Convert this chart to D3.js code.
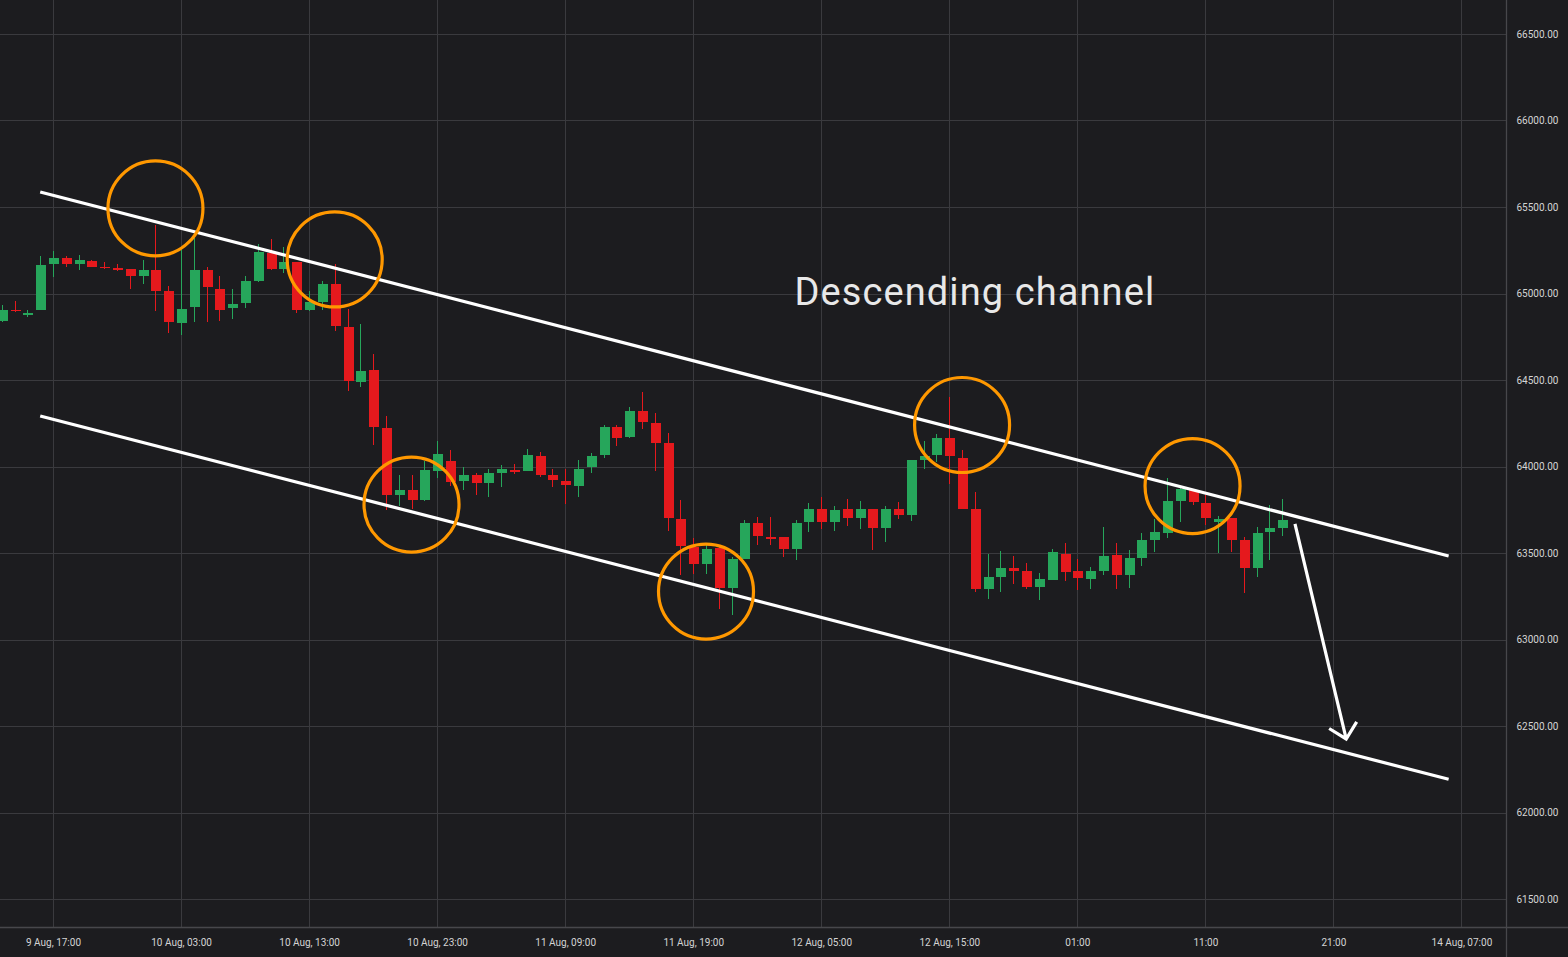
<!DOCTYPE html>
<html>
<head>
<meta charset="utf-8">
<script src="https://cdn.jsdelivr.net/npm/d3@7"></script>
<style>
  html, body { margin: 0; padding: 0; background: #1c1c1f; }
  svg { display: block; }
</style>
</head>
<body>
<svg id="chart"></svg>
<script>
// ── Datos ────────────────────────────────────────────────────────
// velas de 1 hora, desde 9 Aug 13:00 hasta 13 Aug 17:00 (UTC)
const FIRST_CANDLE = "2024-08-09T13:00:00Z";

const opens = [
  64839, 64905, 64878, 64902, 65170, 65208, 65172, 65189, 65155, 65147, 65143,
  65099, 65137, 65012, 64827, 64920, 65137, 65028, 64914, 64943, 65074, 65234, 65143,
  65180, 64902, 64949, 65057, 64807, 64487, 64560, 64225, 63838, 63867, 63809, 63975,
  64029, 63915, 63948, 63906, 63964, 63978, 63973, 64063, 63948, 63919, 63886, 63996,
  64067, 64229, 64169, 64323, 64254, 64133, 63699, 63536, 63434, 63527, 63295, 63463,
  63671, 63592, 63590, 63526, 63678, 63757, 63678, 63752, 63701, 63752, 63642, 63756,
  63719, 64036, 64065, 64162, 64050, 63757, 63290, 63359, 63411, 63394, 63303, 63342,
  63497, 63394, 63347, 63394, 63486, 63372, 63469, 63573, 63617, 63800, 63862, 63790,
  63681, 63700, 63578, 63411, 63621, 63642
];
const highs = [
  64935, 64958, 64905, 65218, 65247, 65214, 65224, 65195, 65184, 65172, 65143,
  65195, 65397, 65045, 65250, 65320, 65155, 65103, 65028, 65099, 65287, 65316, 65268,
  65180, 65012, 65074, 65172, 64912, 64826, 64652, 64294, 63948, 63948, 64030, 64146,
  64098, 63998, 63960, 63988, 64011, 64015, 64104, 64082, 63988, 63983, 64040, 64079,
  64237, 64242, 64344, 64431, 64312, 64196, 63804, 63588, 63545, 63540, 63474, 63688,
  63707, 63707, 63590, 63688, 63790, 63825, 63771, 63815, 63798, 63752, 63769, 63796,
  64040, 64150, 64185, 64400, 64098, 63852, 63497, 63509, 63482, 63444, 63386, 63526,
  63555, 63463, 63417, 63649, 63555, 63515, 63613, 63694, 63934, 63886, 63870, 63833,
  63715, 63700, 63592, 63653, 63779, 63815
];
const lows = [
  64835, 64895, 64866, 64902, 65093, 65151, 65133, 65151, 65143, 65132, 65028,
  65057, 64897, 64772, 64758, 64833, 64833, 64839, 64854, 64914, 65068, 65133, 65118,
  64889, 64897, 64902, 64781, 64435, 64458, 64127, 63746, 63771, 63752, 63800, 63935,
  63886, 63863, 63838, 63823, 63883, 63954, 63973, 63940, 63880, 63781, 63823, 63963,
  64050, 64117, 64163, 64219, 63973, 63626, 63372, 63376, 63376, 63174, 63141, 63463,
  63544, 63545, 63476, 63457, 63621, 63640, 63626, 63656, 63636, 63517, 63563, 63698,
  63684, 63988, 64027, 63896, 63752, 63274, 63232, 63274, 63319, 63290, 63226, 63342,
  63338, 63286, 63290, 63372, 63290, 63295, 63425, 63505, 63586, 63678, 63777, 63659,
  63498, 63505, 63267, 63359, 63457, 63597
];
const closes = [
  64906, 64900, 64886, 65166, 65208, 65172, 65191, 65156, 65150, 65137, 65099,
  65137, 65012, 64833, 64912, 65137, 65035, 64906, 64941, 65074, 65237, 65143, 65180,
  64902, 64949, 65057, 64810, 64492, 64554, 64227, 63834, 63867, 63809, 63978, 64075,
  63909, 63948, 63906, 63960, 63983, 63970, 64067, 63948, 63921, 63892, 63988, 64063,
  64229, 64166, 64323, 64256, 64134, 63701, 63540, 63434, 63521, 63295, 63463, 63671,
  63597, 63588, 63526, 63675, 63757, 63678, 63746, 63701, 63757, 63642, 63757, 63719,
  64035, 64063, 64162, 64060, 63757, 63290, 63359, 63411, 63394, 63303, 63347, 63507,
  63390, 63353, 63394, 63482, 63372, 63469, 63573, 63619, 63798, 63871, 63794, 63700,
  63698, 63578, 63411, 63617, 63642, 63688
];

// ejes
const xTickTimes = [
  "2024-08-09T17:00:00Z", "2024-08-10T03:00:00Z", "2024-08-10T13:00:00Z",
  "2024-08-10T23:00:00Z", "2024-08-11T09:00:00Z", "2024-08-11T19:00:00Z",
  "2024-08-12T05:00:00Z", "2024-08-12T15:00:00Z", "2024-08-13T01:00:00Z",
  "2024-08-13T11:00:00Z", "2024-08-13T21:00:00Z", "2024-08-14T07:00:00Z"
];
const xTickLabels = [
  "9 Aug, 17:00", "10 Aug, 03:00", "10 Aug, 13:00", "10 Aug, 23:00",
  "11 Aug, 09:00", "11 Aug, 19:00", "12 Aug, 05:00", "12 Aug, 15:00",
  "01:00", "11:00", "21:00", "14 Aug, 07:00"
];
const yTicks = [61500, 62000, 62500, 63000, 63500, 64000, 64500, 65000, 65500, 66000, 66500];

// dibujos: canal, flecha, círculos, texto  [tiempo, precio]
const upperLine = [["2024-08-09T16:00:00Z", 65587], ["2024-08-14T06:00:00Z", 63483]];
const lowerLine = [["2024-08-09T16:00:00Z", 64292], ["2024-08-14T06:00:00Z", 62192]];
const arrowLine = [["2024-08-13T18:00:00Z", 63668], ["2024-08-13T22:00:00Z", 62425]];
const touchPoints = [
  ["2024-08-10T01:00:00Z", 65492],
  ["2024-08-10T15:00:00Z", 65197],
  ["2024-08-10T21:00:00Z", 63780],
  ["2024-08-11T20:00:00Z", 63277],
  ["2024-08-12T16:00:00Z", 64240],
  ["2024-08-13T10:00:00Z", 63887]
];
const annotation = { text: "Descending channel", time: "2024-08-12T17:00:00Z", price: 65000 };

// ── Layout ───────────────────────────────────────────────────────
const W = 1568, H = 957;
const plotRight = 1506.5, plotBottom = 927.5;
const UP = "#26a65b", DOWN = "#e5191d";
const GRID = "#3a3a3e", AXIS = "#47474b", LABEL = "#d4d4d4";

const svg = d3.select("#chart").attr("width", W).attr("height", H);
svg.append("rect").attr("width", W).attr("height", H).attr("fill", "#1c1c1f");

const x = d3.scaleUtc()
  .domain([new Date("2024-08-09T12:51:34Z"), new Date("2024-08-14T10:31:12Z")])
  .range([0, plotRight]);
const y = d3.scaleLinear().domain([61500, 66500]).range([899, 34]);

const hour = 3600 * 1000;
const t0 = new Date(FIRST_CANDLE).getTime();
const candles = opens.map((o, i) => ({
  t: new Date(t0 + i * hour), o, h: highs[i], l: lows[i], c: closes[i]
}));
const ticks = xTickTimes.map(s => new Date(s));

// ── Rejilla ──────────────────────────────────────────────────────
const grid = svg.append("g").attr("shape-rendering", "crispEdges");
grid.selectAll(".gx").data(ticks).join("line")
  .attr("x1", d => Math.round(x(d)) + 0.5).attr("x2", d => Math.round(x(d)) + 0.5)
  .attr("y1", 0).attr("y2", plotBottom)
  .attr("stroke", GRID).attr("stroke-width", 1.3);
grid.selectAll(".gy").data(yTicks).join("line")
  .attr("x1", 0).attr("x2", plotRight)
  .attr("y1", d => Math.round(y(d)) + 0.5).attr("y2", d => Math.round(y(d)) + 0.5)
  .attr("stroke", GRID).attr("stroke-width", 1.3);

// ── Ejes ─────────────────────────────────────────────────────────
svg.append("line")
  .attr("x1", plotRight).attr("x2", plotRight).attr("y1", 0).attr("y2", H)
  .attr("stroke", AXIS).attr("stroke-width", 1.3);
svg.append("line")
  .attr("x1", 0).attr("x2", W).attr("y1", plotBottom).attr("y2", plotBottom)
  .attr("stroke", AXIS).attr("stroke-width", 1.3);

const yAxis = svg.append("g")
  .attr("transform", `translate(${plotRight},0)`)
  .call(d3.axisRight(y).tickValues(yTicks).tickSize(0).tickPadding(10).tickFormat(d3.format(".2f")));
yAxis.select(".domain").remove();
yAxis.selectAll("text").attr("fill", LABEL).attr("font-size", 10).attr("font-family", "Roboto, sans-serif");

const xAxis = svg.append("g")
  .attr("transform", `translate(0,${plotBottom})`)
  .call(d3.axisBottom(x).tickValues(ticks).tickSize(0).tickFormat((d, i) => xTickLabels[i]));
xAxis.select(".domain").remove();
xAxis.selectAll("text")
  .attr("y", 15).attr("dy", "0.35em")
  .attr("fill", LABEL).attr("font-size", 10).attr("font-family", "Roboto, sans-serif");

// ── Velas ────────────────────────────────────────────────────────
const bodyW = 10;
const cg = svg.append("g").attr("shape-rendering", "crispEdges");
const cell = cg.selectAll("g").data(candles).join("g");
cell.append("line")
  .attr("x1", d => Math.round(x(d.t)) + 0.5).attr("x2", d => Math.round(x(d.t)) + 0.5)
  .attr("y1", d => y(d.h)).attr("y2", d => y(d.l))
  .attr("stroke", d => d.c >= d.o ? UP : DOWN).attr("stroke-width", 1);
cell.append("rect")
  .attr("x", d => Math.round(x(d.t)) - bodyW / 2 + 0.5)
  .attr("y", d => y(Math.max(d.o, d.c)))
  .attr("width", bodyW)
  .attr("height", d => Math.max(1.5, Math.abs(y(d.o) - y(d.c))))
  .attr("fill", d => d.c >= d.o ? UP : DOWN);

// ── Canal ────────────────────────────────────────────────────────
const pt = d => [x(new Date(d[0])), y(d[1])];
const line = d3.line().x(d => pt(d)[0]).y(d => pt(d)[1]);
[upperLine, lowerLine].forEach(seg => {
  svg.append("path").attr("d", line(seg))
    .attr("fill", "none").attr("stroke", "#ffffff").attr("stroke-width", 3.2);
});

// ── Flecha ───────────────────────────────────────────────────────
const [ax0, ay0] = pt(arrowLine[0]);
const [ax1, ay1] = pt(arrowLine[1]);
const ang = Math.atan2(ay0 - ay1, ax0 - ax1);
const wing = 20, spread = Math.PI / 4;
const arrow = d3.path();
arrow.moveTo(ax0, ay0); arrow.lineTo(ax1, ay1);
arrow.moveTo(ax1 + wing * Math.cos(ang - spread), ay1 + wing * Math.sin(ang - spread));
arrow.lineTo(ax1, ay1);
arrow.lineTo(ax1 + wing * Math.cos(ang + spread), ay1 + wing * Math.sin(ang + spread));
svg.append("path").attr("d", arrow.toString())
  .attr("fill", "none").attr("stroke", "#ffffff").attr("stroke-width", 3.2)
  .attr("stroke-linejoin", "miter");

// ── Círculos ─────────────────────────────────────────────────────
svg.append("g").selectAll("circle").data(touchPoints).join("circle")
  .attr("cx", d => pt(d)[0]).attr("cy", d => pt(d)[1]).attr("r", 47.5)
  .attr("fill", "none").attr("stroke", "#ff9800").attr("stroke-width", 3.2);

// ── Texto ────────────────────────────────────────────────────────
svg.append("text")
  .attr("x", x(new Date(annotation.time))).attr("y", y(annotation.price))
  .attr("dy", "0.31em").attr("text-anchor", "middle")
  .attr("font-family", "Roboto, sans-serif").attr("font-size", 38)
  .attr("letter-spacing", 1.1)
  .attr("fill", "#e8e8e8")
  .text(annotation.text);
</script>
</body>
</html>
